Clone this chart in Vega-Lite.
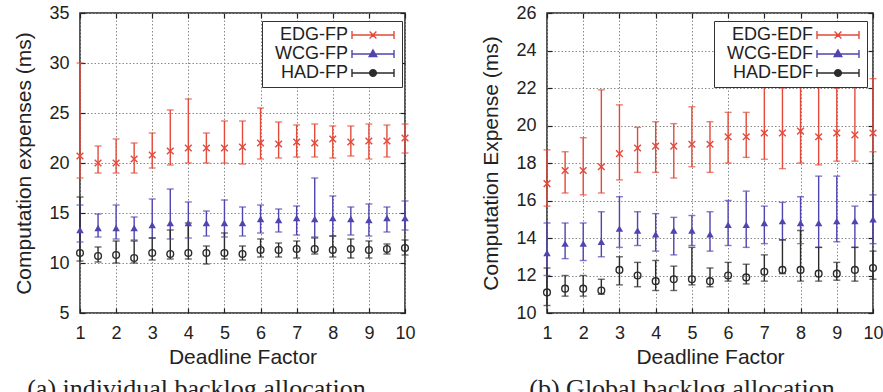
{
  "$schema": "https://vega.github.io/schema/vega-lite/v6.json",
  "padding": {"left": 13, "top": 3, "right": 0, "bottom": 0},
  "spacing": 64,
  "resolve": {
    "scale": {"color": "independent"},
    "legend": {"color": "independent"}
  },
  "datasets": {
    "fp": [
      {"f": 1, "s": "EDG-FP", "m": 20.7, "lo": 18.5, "hi": 30.0},
      {"f": 1.5, "s": "EDG-FP", "m": 20.0, "lo": 19.0, "hi": 21.7},
      {"f": 2, "s": "EDG-FP", "m": 20.0, "lo": 19.0, "hi": 22.4},
      {"f": 2.5, "s": "EDG-FP", "m": 20.4, "lo": 19.0, "hi": 22.0},
      {"f": 3, "s": "EDG-FP", "m": 20.8, "lo": 19.5, "hi": 23.0},
      {"f": 3.5, "s": "EDG-FP", "m": 21.2, "lo": 19.8, "hi": 25.3},
      {"f": 4, "s": "EDG-FP", "m": 21.5, "lo": 20.0, "hi": 26.4},
      {"f": 4.5, "s": "EDG-FP", "m": 21.5, "lo": 20.0, "hi": 23.0},
      {"f": 5, "s": "EDG-FP", "m": 21.5, "lo": 20.0, "hi": 24.2},
      {"f": 5.5, "s": "EDG-FP", "m": 21.6, "lo": 19.9, "hi": 24.2},
      {"f": 6, "s": "EDG-FP", "m": 22.0, "lo": 20.4, "hi": 25.5},
      {"f": 6.5, "s": "EDG-FP", "m": 21.9, "lo": 20.5, "hi": 24.1},
      {"f": 7, "s": "EDG-FP", "m": 22.1, "lo": 20.6, "hi": 23.8},
      {"f": 7.5, "s": "EDG-FP", "m": 22.0, "lo": 20.6, "hi": 23.9},
      {"f": 8, "s": "EDG-FP", "m": 22.4, "lo": 20.5, "hi": 23.7},
      {"f": 8.5, "s": "EDG-FP", "m": 22.1, "lo": 20.7, "hi": 23.7},
      {"f": 9, "s": "EDG-FP", "m": 22.2, "lo": 20.4, "hi": 23.9},
      {"f": 9.5, "s": "EDG-FP", "m": 22.2, "lo": 20.6, "hi": 23.8},
      {"f": 10, "s": "EDG-FP", "m": 22.5, "lo": 21.0, "hi": 23.9},
      {"f": 1, "s": "WCG-FP", "m": 13.3, "lo": 12.1, "hi": 15.8},
      {"f": 1.5, "s": "WCG-FP", "m": 13.5, "lo": 12.6, "hi": 14.9},
      {"f": 2, "s": "WCG-FP", "m": 13.5, "lo": 12.4, "hi": 15.8},
      {"f": 2.5, "s": "WCG-FP", "m": 13.5, "lo": 12.3, "hi": 14.6},
      {"f": 3, "s": "WCG-FP", "m": 13.8, "lo": 12.5, "hi": 16.4},
      {"f": 3.5, "s": "WCG-FP", "m": 14.0, "lo": 12.4, "hi": 17.4},
      {"f": 4, "s": "WCG-FP", "m": 14.0, "lo": 12.5, "hi": 16.1},
      {"f": 4.5, "s": "WCG-FP", "m": 14.0, "lo": 12.7, "hi": 15.2},
      {"f": 5, "s": "WCG-FP", "m": 14.0, "lo": 12.6, "hi": 16.3},
      {"f": 5.5, "s": "WCG-FP", "m": 14.0, "lo": 12.7, "hi": 15.6},
      {"f": 6, "s": "WCG-FP", "m": 14.4, "lo": 13.0, "hi": 15.8},
      {"f": 6.5, "s": "WCG-FP", "m": 14.3, "lo": 13.1, "hi": 15.4},
      {"f": 7, "s": "WCG-FP", "m": 14.5, "lo": 12.8, "hi": 15.7},
      {"f": 7.5, "s": "WCG-FP", "m": 14.4, "lo": 12.6, "hi": 18.5},
      {"f": 8, "s": "WCG-FP", "m": 14.5, "lo": 12.7, "hi": 16.7},
      {"f": 8.5, "s": "WCG-FP", "m": 14.4, "lo": 12.8, "hi": 15.6},
      {"f": 9, "s": "WCG-FP", "m": 14.3, "lo": 12.7, "hi": 15.9},
      {"f": 9.5, "s": "WCG-FP", "m": 14.5, "lo": 13.1, "hi": 15.6},
      {"f": 10, "s": "WCG-FP", "m": 14.5, "lo": 13.3, "hi": 16.2},
      {"f": 1, "s": "HAD-FP", "m": 11.0, "lo": 10.2, "hi": 16.6},
      {"f": 1.5, "s": "HAD-FP", "m": 10.7, "lo": 10.1, "hi": 11.6},
      {"f": 2, "s": "HAD-FP", "m": 10.8, "lo": 10.0, "hi": 12.2},
      {"f": 2.5, "s": "HAD-FP", "m": 10.5, "lo": 10.0, "hi": 12.2},
      {"f": 3, "s": "HAD-FP", "m": 11.0, "lo": 10.3, "hi": 12.5},
      {"f": 3.5, "s": "HAD-FP", "m": 10.9, "lo": 10.4, "hi": 13.3},
      {"f": 4, "s": "HAD-FP", "m": 11.0, "lo": 10.4, "hi": 14.0},
      {"f": 4.5, "s": "HAD-FP", "m": 11.0, "lo": 9.9, "hi": 11.7},
      {"f": 5, "s": "HAD-FP", "m": 11.0, "lo": 10.4, "hi": 13.0},
      {"f": 5.5, "s": "HAD-FP", "m": 10.9, "lo": 10.3, "hi": 11.7},
      {"f": 6, "s": "HAD-FP", "m": 11.3, "lo": 10.6, "hi": 12.4},
      {"f": 6.5, "s": "HAD-FP", "m": 11.3, "lo": 10.6, "hi": 12.0},
      {"f": 7, "s": "HAD-FP", "m": 11.4, "lo": 10.5, "hi": 12.2},
      {"f": 7.5, "s": "HAD-FP", "m": 11.4, "lo": 10.9, "hi": 12.5},
      {"f": 8, "s": "HAD-FP", "m": 11.3, "lo": 10.6, "hi": 12.7},
      {"f": 8.5, "s": "HAD-FP", "m": 11.4, "lo": 10.5, "hi": 12.4},
      {"f": 9, "s": "HAD-FP", "m": 11.3, "lo": 10.5, "hi": 12.2},
      {"f": 9.5, "s": "HAD-FP", "m": 11.4, "lo": 10.9, "hi": 11.9},
      {"f": 10, "s": "HAD-FP", "m": 11.5, "lo": 10.8, "hi": 12.3}
    ],
    "edf": [
      {"f": 1, "s": "EDG-EDF", "m": 16.9, "lo": 15.7, "hi": 18.7},
      {"f": 1.5, "s": "EDG-EDF", "m": 17.6, "lo": 16.4, "hi": 18.6},
      {"f": 2, "s": "EDG-EDF", "m": 17.6, "lo": 16.3, "hi": 19.35},
      {"f": 2.5, "s": "EDG-EDF", "m": 17.8, "lo": 16.4, "hi": 21.9},
      {"f": 3, "s": "EDG-EDF", "m": 18.5, "lo": 17.1, "hi": 21.1},
      {"f": 3.5, "s": "EDG-EDF", "m": 18.8, "lo": 17.5, "hi": 19.9},
      {"f": 4, "s": "EDG-EDF", "m": 18.9, "lo": 17.5, "hi": 20.2},
      {"f": 4.5, "s": "EDG-EDF", "m": 18.9, "lo": 17.2, "hi": 20.1},
      {"f": 5, "s": "EDG-EDF", "m": 19.0, "lo": 17.8, "hi": 21.0},
      {"f": 5.5, "s": "EDG-EDF", "m": 19.0, "lo": 17.5, "hi": 20.2},
      {"f": 6, "s": "EDG-EDF", "m": 19.4, "lo": 18.0, "hi": 20.7},
      {"f": 6.5, "s": "EDG-EDF", "m": 19.4, "lo": 18.3, "hi": 20.7},
      {"f": 7, "s": "EDG-EDF", "m": 19.6, "lo": 18.2, "hi": 23.9},
      {"f": 7.5, "s": "EDG-EDF", "m": 19.6, "lo": 17.7, "hi": 22.0},
      {"f": 8, "s": "EDG-EDF", "m": 19.7, "lo": 18.0, "hi": 22.15},
      {"f": 8.5, "s": "EDG-EDF", "m": 19.4, "lo": 17.9, "hi": 22.2},
      {"f": 9, "s": "EDG-EDF", "m": 19.6, "lo": 18.1, "hi": 22.0},
      {"f": 9.5, "s": "EDG-EDF", "m": 19.5, "lo": 18.1, "hi": 23.8},
      {"f": 10, "s": "EDG-EDF", "m": 19.6, "lo": 18.6, "hi": 22.5},
      {"f": 1, "s": "WCG-EDF", "m": 13.2, "lo": 12.0, "hi": 14.8},
      {"f": 1.5, "s": "WCG-EDF", "m": 13.7, "lo": 12.9, "hi": 14.8},
      {"f": 2, "s": "WCG-EDF", "m": 13.7, "lo": 12.8, "hi": 14.8},
      {"f": 2.5, "s": "WCG-EDF", "m": 13.8, "lo": 13.0, "hi": 15.4},
      {"f": 3, "s": "WCG-EDF", "m": 14.5, "lo": 13.5, "hi": 16.2},
      {"f": 3.5, "s": "WCG-EDF", "m": 14.4, "lo": 13.6, "hi": 15.4},
      {"f": 4, "s": "WCG-EDF", "m": 14.2, "lo": 13.3, "hi": 15.3},
      {"f": 4.5, "s": "WCG-EDF", "m": 14.4, "lo": 13.1, "hi": 15.1},
      {"f": 5, "s": "WCG-EDF", "m": 14.4, "lo": 13.6, "hi": 15.2},
      {"f": 5.5, "s": "WCG-EDF", "m": 14.2, "lo": 13.3, "hi": 15.4},
      {"f": 6, "s": "WCG-EDF", "m": 14.7, "lo": 13.6, "hi": 16.0},
      {"f": 6.5, "s": "WCG-EDF", "m": 14.7, "lo": 13.5, "hi": 16.5},
      {"f": 7, "s": "WCG-EDF", "m": 14.8, "lo": 13.7, "hi": 15.7},
      {"f": 7.5, "s": "WCG-EDF", "m": 14.9, "lo": 13.9, "hi": 15.9},
      {"f": 8, "s": "WCG-EDF", "m": 14.8, "lo": 13.7, "hi": 16.2},
      {"f": 8.5, "s": "WCG-EDF", "m": 14.8, "lo": 13.5, "hi": 17.3},
      {"f": 9, "s": "WCG-EDF", "m": 14.9, "lo": 13.8, "hi": 17.3},
      {"f": 9.5, "s": "WCG-EDF", "m": 14.9, "lo": 13.5, "hi": 15.7},
      {"f": 10, "s": "WCG-EDF", "m": 15.0, "lo": 13.7, "hi": 16.3},
      {"f": 1, "s": "HAD-EDF", "m": 11.1, "lo": 10.4, "hi": 12.4},
      {"f": 1.5, "s": "HAD-EDF", "m": 11.3, "lo": 10.9, "hi": 12.0},
      {"f": 2, "s": "HAD-EDF", "m": 11.3, "lo": 10.9, "hi": 12.0},
      {"f": 2.5, "s": "HAD-EDF", "m": 11.2, "lo": 11.0, "hi": 11.8},
      {"f": 3, "s": "HAD-EDF", "m": 12.3, "lo": 11.5, "hi": 13.0},
      {"f": 3.5, "s": "HAD-EDF", "m": 12.0, "lo": 11.4, "hi": 12.7},
      {"f": 4, "s": "HAD-EDF", "m": 11.7, "lo": 11.2, "hi": 12.8},
      {"f": 4.5, "s": "HAD-EDF", "m": 11.8, "lo": 11.2, "hi": 12.5},
      {"f": 5, "s": "HAD-EDF", "m": 11.8, "lo": 11.5, "hi": 13.5},
      {"f": 5.5, "s": "HAD-EDF", "m": 11.7, "lo": 11.4, "hi": 12.4},
      {"f": 6, "s": "HAD-EDF", "m": 12.0, "lo": 11.7, "hi": 12.7},
      {"f": 6.5, "s": "HAD-EDF", "m": 11.9, "lo": 11.55, "hi": 12.6},
      {"f": 7, "s": "HAD-EDF", "m": 12.2, "lo": 11.7, "hi": 13.1},
      {"f": 7.5, "s": "HAD-EDF", "m": 12.3, "lo": 12.1, "hi": 13.9},
      {"f": 8, "s": "HAD-EDF", "m": 12.3, "lo": 11.7, "hi": 14.4},
      {"f": 8.5, "s": "HAD-EDF", "m": 12.1, "lo": 11.7, "hi": 13.5},
      {"f": 9, "s": "HAD-EDF", "m": 12.1, "lo": 11.75, "hi": 12.7},
      {"f": 9.5, "s": "HAD-EDF", "m": 12.3, "lo": 11.7, "hi": 13.5},
      {"f": 10, "s": "HAD-EDF", "m": 12.4, "lo": 11.8, "hi": 13.3}
    ]
  },
  "hconcat": [
    {
      "width": 325,
      "height": 300,
      "data": {"name": "fp"},
      "title": {"text": "(a) individual backlog allocation", "orient": "bottom", "frame": "bounds", "anchor": "middle", "offset": 9, "dx": -18},
      "resolve": {"axis": {"x": "independent", "y": "independent"}},
      "layer": [
        {
          "mark": {"type": "rule", "strokeWidth": 1.4},
          "encoding": {
            "x": {"field": "f", "type": "quantitative", "scale": {"domain": [1, 10], "nice": false, "zero": false},
                  "axis": {"values": [1, 2, 3, 4, 5, 6, 7, 8, 9, 10], "title": "Deadline Factor", "grid": true}},
            "y": {"field": "lo", "type": "quantitative", "scale": {"domain": [5, 35], "nice": false, "zero": false},
                  "axis": {"values": [5, 10, 15, 20, 25, 30, 35], "title": "Computation expenses (ms)", "grid": true}},
            "y2": {"field": "hi"},
            "color": {"field": "s", "type": "nominal",
                      "scale": {"domain": ["EDG-FP", "WCG-FP", "HAD-FP"], "range": ["#e24a3b", "#4f44b0", "#2b2b2b"]},
                      "legend": {
                        "orient": "none", "legendX": 182, "legendY": 8, "title": null,
                        "labelAlign": "right", "labelOffset": 63,
                        "strokeColor": "#333333", "fillColor": "white", "padding": 5, "rowPadding": 1,
                        "symbolSize": 100, "symbolStrokeWidth": 1.4,
                        "encode": {"symbols": {"update": {
                          "shape": {"signal": "slice(datum.value,0,3) == 'EDG' ? 'M15.2,0H23.6M15.2,-0.8V0.8M23.6,-0.8V0.8M18.72,-0.68L20.08,0.68M18.72,0.68L20.08,-0.68' : slice(datum.value,0,3) == 'WCG' ? 'M15.2,0H23.6M15.2,-0.8V0.8M23.6,-0.8V0.8M19.4,-0.8L20.16,0.52L18.64,0.52Z' : 'M15.2,0H18.72M20.08,0H23.6M15.2,-0.8V0.8M23.6,-0.8V0.8M20.08,0L19.989,0.34L19.74,0.589L19.4,0.68L19.06,0.589L18.811,0.34L18.72,0L18.811,-0.34L19.06,-0.589L19.4,-0.68L19.74,-0.589L19.989,-0.34Z'"},
                          "stroke": {"signal": "slice(datum.value,0,3) == 'EDG' ? '#e24a3b' : slice(datum.value,0,3) == 'WCG' ? '#4f44b0' : '#2b2b2b'"},
                          "fill": {"signal": "slice(datum.value,0,3) == 'WCG' ? '#4f44b0' : 'white'"}
                        }}}
                      }}
          }
        },
        {
          "mark": {"type": "tick", "orient": "horizontal", "size": 7, "thickness": 1.4},
          "encoding": {
            "x": {"field": "f", "type": "quantitative",
                  "axis": {"orient": "top", "values": [1, 2, 3, 4, 5, 6, 7, 8, 9, 10], "labels": false, "title": null, "grid": false}},
            "y": {"field": "lo", "type": "quantitative",
                  "axis": {"orient": "right", "values": [5, 10, 15, 20, 25, 30, 35], "labels": false, "title": null, "grid": false}},
            "color": {"field": "s", "type": "nominal"}
          }
        },
        {
          "mark": {"type": "tick", "orient": "horizontal", "size": 7, "thickness": 1.4},
          "encoding": {
            "x": {"field": "f", "type": "quantitative", "axis": null},
            "y": {"field": "hi", "type": "quantitative", "axis": null},
            "color": {"field": "s", "type": "nominal"}
          }
        },
        {
          "transform": [{"filter": "slice(datum.s,0,3) == 'EDG'"}],
          "mark": {"type": "point", "shape": "M-1,-1L1,1M-1,1L1,-1", "filled": false, "color": "#e24a3b", "strokeWidth": 1.4, "size": 45, "opacity": 1},
          "encoding": {
            "x": {"field": "f", "type": "quantitative", "axis": null},
            "y": {"field": "m", "type": "quantitative", "axis": null}
          }
        },
        {
          "transform": [{"filter": "slice(datum.s,0,3) == 'WCG'"}],
          "mark": {"type": "point", "shape": "triangle-up", "filled": true, "color": "#4f44b0", "size": 55, "opacity": 1},
          "encoding": {
            "x": {"field": "f", "type": "quantitative", "axis": null},
            "y": {"field": "m", "type": "quantitative", "axis": null}
          }
        },
        {
          "transform": [{"filter": "slice(datum.s,0,3) == 'HAD'"}],
          "mark": {"type": "point", "shape": "circle", "filled": false, "color": "#2b2b2b", "strokeWidth": 1.4, "size": 45, "opacity": 1},
          "encoding": {
            "x": {"field": "f", "type": "quantitative", "axis": null},
            "y": {"field": "m", "type": "quantitative", "axis": null}
          }
        }
      ]
    },
    {
      "width": 326,
      "height": 300,
      "data": {"name": "edf"},
      "title": {"text": "(b) Global backlog allocation", "orient": "bottom", "frame": "bounds", "anchor": "middle", "offset": 9},
      "resolve": {"axis": {"x": "independent", "y": "independent"}},
      "layer": [
        {
          "mark": {"type": "rule", "strokeWidth": 1.4},
          "encoding": {
            "x": {"field": "f", "type": "quantitative", "scale": {"domain": [1, 10], "nice": false, "zero": false},
                  "axis": {"values": [1, 2, 3, 4, 5, 6, 7, 8, 9, 10], "title": "Deadline Factor", "grid": true}},
            "y": {"field": "lo", "type": "quantitative", "scale": {"domain": [10, 26], "nice": false, "zero": false},
                  "axis": {"values": [10, 12, 14, 16, 18, 20, 22, 24, 26], "title": "Computation Expense (ms)", "grid": true}},
            "y2": {"field": "hi"},
            "color": {"field": "s", "type": "nominal",
                      "scale": {"domain": ["EDG-EDF", "WCG-EDF", "HAD-EDF"], "range": ["#e24a3b", "#4f44b0", "#2b2b2b"]},
                      "legend": {
                        "orient": "none", "legendX": 167, "legendY": 8, "title": null,
                        "labelAlign": "right", "labelOffset": 76,
                        "strokeColor": "#333333", "fillColor": "white", "padding": 5, "rowPadding": 1,
                        "symbolSize": 100, "symbolStrokeWidth": 1.4,
                        "encode": {"symbols": {"update": {
                          "shape": {"signal": "slice(datum.value,0,3) == 'EDG' ? 'M17.8,0H26.2M17.8,-0.8V0.8M26.2,-0.8V0.8M21.32,-0.68L22.68,0.68M21.32,0.68L22.68,-0.68' : slice(datum.value,0,3) == 'WCG' ? 'M17.8,0H26.2M17.8,-0.8V0.8M26.2,-0.8V0.8M22,-0.8L22.76,0.52L21.24,0.52Z' : 'M17.8,0H21.32M22.68,0H26.2M17.8,-0.8V0.8M26.2,-0.8V0.8M22.68,0L22.589,0.34L22.34,0.589L22,0.68L21.66,0.589L21.411,0.34L21.32,0L21.411,-0.34L21.66,-0.589L22,-0.68L22.34,-0.589L22.589,-0.34Z'"},
                          "stroke": {"signal": "slice(datum.value,0,3) == 'EDG' ? '#e24a3b' : slice(datum.value,0,3) == 'WCG' ? '#4f44b0' : '#2b2b2b'"},
                          "fill": {"signal": "slice(datum.value,0,3) == 'WCG' ? '#4f44b0' : 'white'"}
                        }}}
                      }}
          }
        },
        {
          "mark": {"type": "tick", "orient": "horizontal", "size": 7, "thickness": 1.4},
          "encoding": {
            "x": {"field": "f", "type": "quantitative",
                  "axis": {"orient": "top", "values": [1, 2, 3, 4, 5, 6, 7, 8, 9, 10], "labels": false, "title": null, "grid": false}},
            "y": {"field": "lo", "type": "quantitative",
                  "axis": {"orient": "right", "values": [10, 12, 14, 16, 18, 20, 22, 24, 26], "labels": false, "title": null, "grid": false}},
            "color": {"field": "s", "type": "nominal"}
          }
        },
        {
          "mark": {"type": "tick", "orient": "horizontal", "size": 7, "thickness": 1.4},
          "encoding": {
            "x": {"field": "f", "type": "quantitative", "axis": null},
            "y": {"field": "hi", "type": "quantitative", "axis": null},
            "color": {"field": "s", "type": "nominal"}
          }
        },
        {
          "transform": [{"filter": "slice(datum.s,0,3) == 'EDG'"}],
          "mark": {"type": "point", "shape": "M-1,-1L1,1M-1,1L1,-1", "filled": false, "color": "#e24a3b", "strokeWidth": 1.4, "size": 45, "opacity": 1},
          "encoding": {
            "x": {"field": "f", "type": "quantitative", "axis": null},
            "y": {"field": "m", "type": "quantitative", "axis": null}
          }
        },
        {
          "transform": [{"filter": "slice(datum.s,0,3) == 'WCG'"}],
          "mark": {"type": "point", "shape": "triangle-up", "filled": true, "color": "#4f44b0", "size": 55, "opacity": 1},
          "encoding": {
            "x": {"field": "f", "type": "quantitative", "axis": null},
            "y": {"field": "m", "type": "quantitative", "axis": null}
          }
        },
        {
          "transform": [{"filter": "slice(datum.s,0,3) == 'HAD'"}],
          "mark": {"type": "point", "shape": "circle", "filled": false, "color": "#2b2b2b", "strokeWidth": 1.4, "size": 45, "opacity": 1},
          "encoding": {
            "x": {"field": "f", "type": "quantitative", "axis": null},
            "y": {"field": "m", "type": "quantitative", "axis": null}
          }
        }
      ]
    }
  ],
  "config": {
    "font": "Liberation Sans",
    "view": {"stroke": "#222222", "strokeWidth": 1.5},
    "axis": {
      "domain": false,
      "labelFontSize": 18,
      "labelColor": "#222222",
      "labelOverlap": false,
      "labelFlush": false,
      "labelPadding": 16,
      "tickSize": -5,
      "tickColor": "#222222",
      "tickWidth": 1.2,
      "titleFontSize": 21,
      "titleFontWeight": "normal",
      "titleColor": "#222222",
      "titlePadding": 14,
      "gridColor": "#8a8a8a",
      "gridDash": [1.5, 2],
      "gridWidth": 1,
      "gridOpacity": 1
    },
    "axisX": {"titlePadding": 4},
    "legend": {
      "labelFontSize": 18,
      "labelColor": "#222222",
      "labelLimit": 300
    },
    "title": {
      "font": "Liberation Serif",
      "fontSize": 26,
      "fontWeight": "normal",
      "color": "#222222"
    }
  }
}
